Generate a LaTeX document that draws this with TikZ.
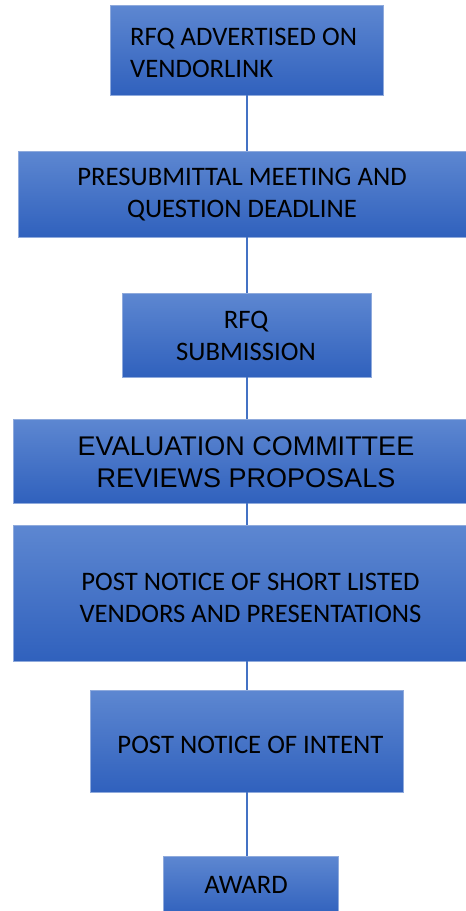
\documentclass[tikz,border=0pt]{standalone}
\usepackage{fontspec}
\setmainfont{Carlito}
\newfontfamily\arialfont{Liberation Sans}
\definecolor{stagetop}{HTML}{5D87D1}
\definecolor{stagemiddle}{HTML}{4673C6}
\definecolor{stagebottom}{HTML}{3061BD}
\definecolor{stageborder}{HTML}{8FAADC}
\definecolor{stageline}{HTML}{4472C4}
\tikzset{
  stage/.style={rectangle, draw=stageborder, line width=0.8pt, top color=stagetop, middle color=stagemiddle, bottom color=stagebottom, inner sep=0pt},
  stagetext/.style={inner sep=0pt, align=center, text=black, font=\fontsize{26.7}{32}\selectfont},
  link/.style={draw=stageline, line width=2pt}
}

\begin{document}
\begin{tikzpicture}[x=1pt,y=-1pt]
  % Page frame
  \useasboundingbox (0,0) rectangle (466,911);

  % Stage boxes
  \node[stage, minimum width=273pt, minimum height=90pt] (advertised) at (246.5,50) {};
  \node[stage, minimum width=452pt, minimum height=86pt] (meeting) at (244,194) {};
  \node[stage, minimum width=249pt, minimum height=84pt] (submission) at (246.5,335) {};
  \node[stage, minimum width=457pt, minimum height=84pt] (evaluation) at (241.5,461) {};
  \node[stage, minimum width=457pt, minimum height=136pt] (shortlist) at (241.5,593) {};
  \node[stage, minimum width=313pt, minimum height=102pt] (intent) at (246.5,741) {};
  \node[stage, minimum width=175pt, minimum height=60pt] (award) at (250.5,886) {};

  % Texts
  \node[stagetext, align=left, anchor=west] (advertisedtext) at (130,53) {RFQ ADVERTISED ON\\VENDORLINK};
  \node[stagetext] (meetingtext) at (242,194.5) {PRESUBMITTAL MEETING AND\\QUESTION DEADLINE};
  \node[stagetext] (submissiontext) at (246,336) {RFQ\\SUBMISSION};
  \node[stagetext, font=\arialfont\fontsize{27}{32}\selectfont] (evaluationtext) at (246,462) {EVALUATION COMMITTEE\\REVIEWS PROPOSALS};
  \node[stagetext] (shortlisttext) at (250.5,598) {POST NOTICE OF SHORT LISTED\\VENDORS AND PRESENTATIONS};
  \node[stagetext] (intenttext) at (250.5,745) {POST NOTICE OF INTENT};
  \node[stagetext] (awardtext) at (246,885) {AWARD};

  % Connectors
  \draw[link] (246.5,0 |- advertised.south) -- (246.5,0 |- meeting.north);
  \draw[link] (246.5,0 |- meeting.south) -- (246.5,0 |- submission.north);
  \draw[link] (submission.south) -- (submission.south |- evaluation.north);
  \draw[link] (submission.south |- evaluation.south) -- (submission.south |- shortlist.north);
  \draw[link] (intent.north |- shortlist.south) -- (intent.north);
  \draw[link] (intent.south) -- (intent.south |- award.north);
\end{tikzpicture}
\end{document}
